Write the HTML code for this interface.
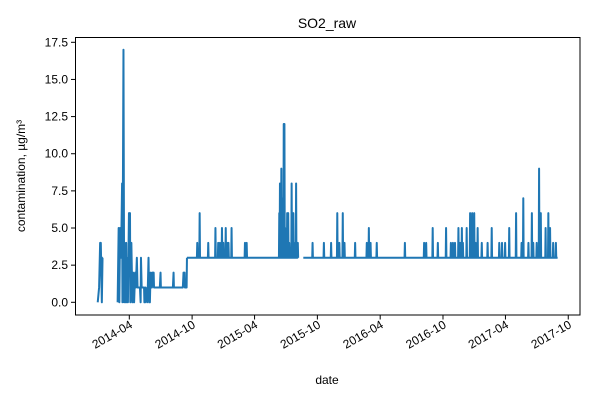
<!DOCTYPE html>
<html><head><meta charset="utf-8"><style>
body{margin:0;background:#fff}
svg text{font-family:"Liberation Sans","DejaVu Sans",sans-serif;fill:#000}
</style></head><body>
<svg id="chart" width="600" height="400" viewBox="0 0 600 400">
<rect width="600" height="400" fill="#fff"/>
<text x="327" y="28" font-size="14" text-anchor="middle">SO2_raw</text>
<g id="yaxis"></g>
<g id="xaxis"></g>
<path id="line" fill="none" stroke="#1f77b4" stroke-width="2" stroke-linejoin="round"/>
<rect x="75.5" y="37.5" width="504.5" height="277.5" fill="none" stroke="#000" stroke-width="1"/>
<text x="327" y="384" font-size="12" text-anchor="middle">date</text>
<text transform="translate(25,176) rotate(-90)" font-size="12" text-anchor="middle">contamination, µg/m³</text>
</svg>
<script>
// days since 2014-04-01
const baseDate = "2014-04-01";
const segDays = [
 [-92,-88,-85,-83,-80,-78,-77],
 [-34,-31,-29,-27,-24,-21,-20,-17,-15,-14,-12,-9,-8,-7,-4,-2,-1,2,3,6,9,11,14,17,19,22,24,31,33,34,36,43,44,46,47,52,53,54,56,58,60,62,63,66,67,71,72,89,91,92,127,129,130,156,158,161,162,167,168]
];
const segVals = [
 [0,1,4,4,0,3,3],
 [0,5,0,5,3,8,0,17,0,4,0,4,0,3,0,4,6,6,0,4,0,2,0,2,1,3,1,1,0,3,1,1,0,0,1,0,1,1,3,0,0,2,1,1,2,2,1,1,2,1,1,2,1,1,2,2,1,1,3]
];
const baseline = 3;
const blockStart = [168, 507];
const blockEnd = [492, 1248];
const spikeDays = [198,205,230,251,259,264,270,274,281,285,289,298,337,342,
 437,439,441,443,445,448,450,452,454,456,460,463,466,473,475,478,480,486,488,491,
 534,567,588,606,612,622,627,658,692,698,703,721,803,859,865,884,899,923,937,943,949,959,964,969,972,983,993,999,1005,1009,1015,1027,1044,1056,1078,1086,1095,1107,1127,1143,1148,1163,1173,1177,1187,1194,1199,1213,1221,1226,1235,1243];
const spikeVals = [4,6,4,5,4,4,5,4,5,4,4,5,4,4,
 6,8,4,9,7,4,12,12,5,3,6,6,4,8,3,6,4,8,4,4,
 4,4,4,6,4,6,4,4,4,5,4,4,4,4,4,5,4,5,4,4,4,5,4,5,4,5,6,6,6,4,5,4,4,5,4,4,4,5,6,4,7,4,6,4,4,9,6,5,6,5,4,4];
const yTicks = [0,2.5,5,7.5,10,12.5,15,17.5];
const yTickLabels = ["0.0","2.5","5.0","7.5","10.0","12.5","15.0","17.5"];
const xTickDays = [0,183,365,548,731,914,1096,1279];
const xTickLabels = ["2014-04","2014-10","2015-04","2015-10","2016-04","2016-10","2017-04","2017-10"];

const X = d => 129.3 + d*0.3432;
const Y = v => 302.3 - v*14.857;
const NS = "http://www.w3.org/2000/svg";
const ya = document.getElementById('yaxis'), xa = document.getElementById('xaxis');
yTicks.forEach((t,i)=>{
  const l=document.createElementNS(NS,'line');
  
  
  l.setAttribute('x1',71);l.setAttribute('x2',75.5);l.setAttribute('y1',Y(t));l.setAttribute('y2',Y(t));l.setAttribute('stroke','#000');
  ya.appendChild(l);
  const tx=document.createElementNS(NS,'text');
  
  
  tx.setAttribute('x',68);tx.setAttribute('y',Y(t)+4);tx.setAttribute('font-size','12');tx.setAttribute('text-anchor','end');
  tx.textContent=yTickLabels[i];ya.appendChild(tx);
});
xTickDays.forEach((d,i)=>{
  const x=X(d);
  const l=document.createElementNS(NS,'line');
  
  
  l.setAttribute('x1',x);l.setAttribute('x2',x);l.setAttribute('y1',315);l.setAttribute('y2',319.5);l.setAttribute('stroke','#000');
  xa.appendChild(l);
  const tx=document.createElementNS(NS,'text');
  
  
  tx.setAttribute('font-size','12');tx.setAttribute('text-anchor','end');
  tx.setAttribute('transform',`translate(${x+4},${327}) rotate(-30)`);
  tx.textContent=xTickLabels[i];xa.appendChild(tx);
});
let p='';
segDays.forEach((s,j)=>{ s.forEach((d,i)=>{ p+=(i?'L':'M')+X(d).toFixed(2)+','+Y(segVals[j][i]).toFixed(2); }); });
blockStart.forEach((b,j)=>{
  p+='M'+X(b).toFixed(2)+','+Y(baseline).toFixed(2);
  spikeDays.forEach((d,i)=>{
    if(d>b && d<=blockEnd[j]){
      p+='L'+X(d-1).toFixed(2)+','+Y(baseline).toFixed(2)+'L'+X(d).toFixed(2)+','+Y(spikeVals[i]).toFixed(2)+'L'+X(d+1).toFixed(2)+','+Y(baseline).toFixed(2);
    }
  });
  p+='L'+X(blockEnd[j]).toFixed(2)+','+Y(baseline).toFixed(2);
});
document.getElementById('line').setAttribute('d',p);
</script>
</body></html>
